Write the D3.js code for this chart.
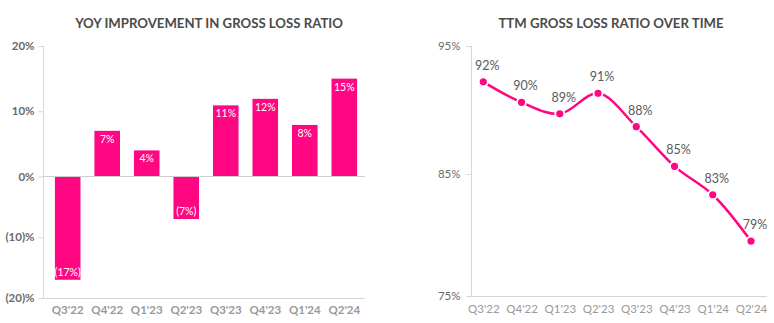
<!DOCTYPE html>
<html><head><meta charset="utf-8">
<script src="https://cdn.jsdelivr.net/npm/d3@7"></script>
<style>
body{margin:0;background:#fff;}
text{font-family:Lato,"Open Sans",sans-serif;}
</style></head>
<body><svg id="c" width="774" height="323"></svg>
<script>
const categories = ["Q3'22","Q4'22","Q1'23","Q2'23","Q3'23","Q4'23","Q1'24","Q2'24"];
const yoyValues = [-17, 7, 4, -7, 10.9, 11.9, 7.9, 15];
const yoyLabels = ["(17%)","7%","4%","(7%)","11%","12%","8%","15%"];
const yoyTicks = [20, 10, 0, -10, -20];
const yoyTickLabels = ["20%","10%","0%","(10)%","(20)%"];
const ttmValues = [92.2, 90.6, 89.7, 91.3, 88.7, 85.6, 83.3, 79.5];
const ttmLabels = ["92%","90%","89%","91%","88%","85%","83%","79%"];
const ttmTicks = [95, 85, 75];
const ttmTickLabels = ["95%","85%","75%"];

const pink = "#ff0682";
const svg = d3.select("#c");

// ---------- Left chart ----------
const L = svg.append("g");
const x1 = d3.scaleBand().domain(categories).range([47, 365]).paddingInner(0.353).paddingOuter(0.2);
const y1 = d3.scaleLinear().domain([-20, 0, 20]).range([298, 176.5, 46]);

L.append("text").attr("x", 209).attr("y", 27.5).attr("text-anchor","middle")
  .attr("font-size", 13.2).attr("font-weight", 700).attr("fill", "#4a4a4a").text("YOY IMPROVEMENT IN GROSS LOSS RATIO");

L.append("line").attr("x1",43.5).attr("x2",43.5).attr("y1",y1(20)).attr("y2",y1(-20)).attr("stroke","#d6d6d6");
L.append("line").attr("x1",43).attr("x2",365).attr("y1",y1(-20)+0.5).attr("y2",y1(-20)+0.5).attr("stroke","#d6d6d6");

const yAx1 = d3.axisLeft(y1).tickValues(yoyTicks).tickSize(5).tickPadding(4)
  .tickFormat((d,i)=>yoyTickLabels[i]);
const ga1 = L.append("g").attr("transform","translate(43.5,0)").call(yAx1);
ga1.select(".domain").remove();
ga1.selectAll(".tick line").attr("stroke","#d6d6d6");
ga1.selectAll(".tick text").attr("font-family","Lato").attr("font-size",11.5).attr("font-weight",700).attr("fill","#6a6a6a");

L.selectAll("rect.bar").data(yoyValues).join("rect").attr("class","bar")
  .attr("x",(d,i)=>x1(categories[i])).attr("width",x1.bandwidth())
  .attr("y",d=>d>=0?y1(d):y1(0)).attr("height",d=>Math.abs(y1(d)-y1(0)))
  .attr("fill",pink);

L.append("line").attr("x1",43).attr("x2",365).attr("y1",y1(0)).attr("y2",y1(0)).attr("stroke","#cfcfcf");

L.selectAll("text.bl").data(yoyValues).join("text").attr("class","bl")
  .attr("x",(d,i)=>x1(categories[i])+x1.bandwidth()/2)
  .attr("y",d=>d>=0?y1(d)+12:y1(d)-4)
  .attr("text-anchor","middle").attr("font-size",10.5).attr("fill","#fff")
  .text((d,i)=>yoyLabels[i]);

const xAx1 = d3.axisBottom(x1).tickSize(0).tickPadding(8);
const gx1 = L.append("g").attr("transform",`translate(0,${y1(-20)})`).call(xAx1);
gx1.select(".domain").remove();
gx1.selectAll(".tick text").attr("font-family","Lato").attr("font-size",11.5).attr("font-weight",700).attr("fill","#9a9a9a");

// ---------- Right chart ----------
const R = svg.append("g");
const x2 = d3.scalePoint().domain(categories).range([483.3, 751]);
const y2 = d3.scaleLinear().domain([75, 85, 95]).range([296, 174, 46]);

R.append("text").attr("x", 611).attr("y", 27.5).attr("text-anchor","middle")
  .attr("font-size", 13.2).attr("font-weight", 700).attr("fill", "#4a4a4a").text("TTM GROSS LOSS RATIO OVER TIME");

R.append("line").attr("x1",471.5).attr("x2",471.5).attr("y1",y2(95)).attr("y2",y2(75)).attr("stroke","#d6d6d6");
R.append("line").attr("x1",471).attr("x2",767).attr("y1",y2(75)+0.5).attr("y2",y2(75)+0.5).attr("stroke","#d6d6d6");

const yAx2 = d3.axisLeft(y2).tickValues(ttmTicks).tickSize(5).tickPadding(6)
  .tickFormat((d,i)=>ttmTickLabels[i]);
const ga2 = R.append("g").attr("transform","translate(471.5,0)").call(yAx2);
ga2.select(".domain").remove();
ga2.selectAll(".tick line").attr("stroke","#d6d6d6");
ga2.selectAll(".tick text").attr("font-family","Lato").attr("font-size",11.5).attr("fill","#6a6a6a");

const line = d3.line().x((d,i)=>x2(categories[i])).y(d=>y2(d)).curve(d3.curveCatmullRom.alpha(0.5));
R.append("path").datum(ttmValues).attr("d",line).attr("fill","none").attr("stroke",pink).attr("stroke-width",2.5);

R.selectAll("circle").data(ttmValues).join("circle")
  .attr("cx",(d,i)=>x2(categories[i])).attr("cy",d=>y2(d)).attr("r",4.5)
  .attr("fill",pink).attr("stroke","#fff").attr("stroke-width",1.8);

R.selectAll("text.pl").data(ttmValues).join("text").attr("class","pl")
  .attr("x",(d,i)=>x2(categories[i])+4).attr("y",d=>y2(d)-12)
  .attr("text-anchor","middle").attr("font-size",12.5).attr("fill","#5a5a5a")
  .text((d,i)=>ttmLabels[i]);

const xAx2 = d3.axisBottom(x2).tickSize(0).tickPadding(9);
const gx2 = R.append("g").attr("transform",`translate(0,${y2(75)})`).call(xAx2);
gx2.select(".domain").remove();
gx2.selectAll(".tick text").attr("font-family","Lato").attr("font-size",11.5).attr("fill","#9a9a9a");
</script></body></html>
